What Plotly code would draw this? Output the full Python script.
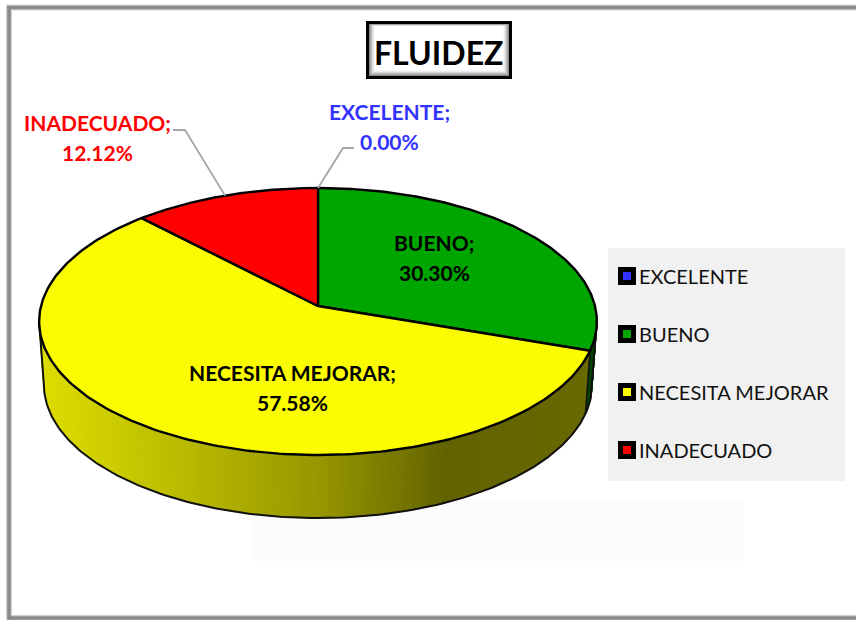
import numpy as np
import plotly.graph_objects as go

categories = ["EXCELENTE", "BUENO", "NECESITA MEJORAR", "INADECUADO"]
percent = [0.00, 30.30, 57.58, 12.12]
colors = ["#3333ff", "#00a600", "#fcfc00", "#ff0000"]
label_colors = ["#3333ff", "#000000", "#000000", "#ff0000"]
label_x = [389, 434, 292, 97]
label_y = [126, 257, 387, 137]
legend_y = [276, 334, 392, 450]

# side shading, factor on the slice colour along screen x
shade_x = [40, 200, 318, 400, 445, 600]
shade_f = [0.88, 0.72, 0.60, 0.47, 0.39, 0.42]

# pie geometry in page pixels (the axes below are 1:1 with the page)
CX, CY = 318, 306
RX, RY, PERSP = 277, 131.7, 0.116
DEPTH, SHRINK = 63, 0.983
FONT = "Lato"


def project(frac):
    # fraction of the circle, clockwise from 12 o'clock, to screen x/y
    ang = 2 * np.pi * np.asarray(frac, dtype=float)
    u, v = np.sin(ang), np.cos(ang)
    k = 1 + PERSP * v
    return CX + RX * u / k, CY - RY * v / k


def lower(x, y):
    return CX + (x - CX) * SHRINK, y + DEPTH


def shade(color, x):
    f = np.interp(x, shade_x, shade_f)
    r, g, b = [int(color[i : i + 2], 16) for i in (1, 3, 5)]
    return f"rgb({int(r * f)},{int(g * f)},{int(b * f)})"


fig = go.Figure()

fracs = np.cumsum([0] + percent) / 100
# the rim shows between the left and right extremes of the ellipse
rim_start = np.arccos(-PERSP) / (2 * np.pi)
rim_end = 1 - rim_start

# rim bands
for i, color in enumerate(colors):
    a, b = max(fracs[i], rim_start), min(fracs[i + 1], rim_end)
    if b <= a:
        continue
    edges = np.linspace(a, b, max(2, int((b - a) * 360) + 1))
    for e0, e1 in zip(edges[:-1], edges[1:]):
        xs, ys = project([e0, e1])
        xb, yb = lower(xs, ys)
        band = shade(color, xs.mean())
        fig.add_trace(
            go.Scatter(
                x=[xs[0], xs[1], xb[1], xb[0], xs[0]],
                y=[ys[0], ys[1], yb[1], yb[0], ys[0]],
                mode="lines",
                fill="toself",
                fillcolor=band,
                line=dict(color=band, width=1),
            )
        )

# rim outline
rim = np.linspace(rim_start, rim_end, 200)
xs, ys = project(rim)
xb, yb = lower(xs, ys)
fig.add_trace(
    go.Scatter(
        x=np.r_[xs[0], xb, xs[-1]],
        y=np.r_[ys[0], yb, ys[-1]],
        mode="lines",
        line=dict(color="#111111", width=2),
    )
)
# rim edge where two slices meet
for f in fracs[1:-1]:
    if rim_start < f < rim_end:
        x0, y0 = project(f)
        x1, y1 = lower(x0, y0)
        fig.add_trace(
            go.Scatter(
                x=[x0, x1], y=[y0, y1], mode="lines", line=dict(color="#111111", width=1.6)
            )
        )

# top face
for i, color in enumerate(colors):
    if percent[i] == 0:
        continue
    arc = np.linspace(fracs[i], fracs[i + 1], 200)
    xs, ys = project(arc)
    fig.add_trace(
        go.Scatter(
            x=np.r_[CX, xs, CX],
            y=np.r_[CY, ys, CY],
            mode="lines",
            fill="toself",
            fillcolor=color,
            line=dict(color="#000000", width=2.4),
        )
    )

# leader lines, only for the two labels outside the pie
for i, elbow in [(0, ((343, 148), (354, 148))), (3, ((185, 130), (173, 130)))]:
    x0, y0 = project((fracs[i] + fracs[i + 1]) / 2)
    fig.add_trace(
        go.Scatter(
            x=[x0, elbow[0][0], elbow[1][0]],
            y=[y0, elbow[0][1], elbow[1][1]],
            mode="lines",
            line=dict(color="#a6a6a6", width=1.8),
        )
    )

# legend keys
fig.add_trace(
    go.Scatter(
        x=[627] * len(categories),
        y=legend_y,
        mode="markers",
        marker=dict(
            symbol="square", size=13, color=colors, line=dict(color="#000000", width=5)
        ),
    )
)

shapes = []
# frame and the faint marks inside it
shapes.append(dict(type="rect", x0=9, y0=7.5, x1=880, y1=618, line=dict(color="#d0d0d0", width=6)))
shapes.append(dict(type="rect", x0=9, y0=7.5, x1=880, y1=618, line=dict(color="#8a8a8a", width=3.5)))
shapes.append(
    dict(type="rect", x0=252, y0=498, x1=744, y1=561, fillcolor="#fcfcfc", line=dict(width=0))
)
# legend box
shapes.append(
    dict(type="rect", x0=608, y0=248, x1=845, y1=481, fillcolor="#f1f1f1", line=dict(width=0))
)
# title box with a bevel from dark edge to white centre
bevel = ["#000000", "#000000", "#000000", "#8c8c8c", "#a8a8a8", "#c0c0c0", "#d8d8d8", "#ebebeb", "#f8f8f8", "#ffffff"]
for n, c in enumerate(bevel):
    top = n if n < 3 else 3 + (n - 3) * 0.4
    shapes.append(
        dict(
            type="rect",
            x0=366 + n,
            y0=21 + top,
            x1=512 - n,
            y1=79 - n,
            fillcolor=c,
            line=dict(width=0),
        )
    )

annotations = [
    dict(
        x=438, y=52, text="<b>FLUIDEZ</b>", showarrow=False,
        font=dict(family=FONT, size=32, color="#000000"),
    )
]
for i, name in enumerate(categories):
    # two annotations per label, the line gap is wider than plotly's <br>
    for text, dy in [(f"{name};", -15), (f"{percent[i]:.2f}%", 15)]:
        annotations.append(
            dict(
                x=label_x[i],
                y=label_y[i] + dy,
                text=f"<b>{text}</b>",
                showarrow=False,
                font=dict(family=FONT, size=21, color=label_colors[i]),
            )
        )
    annotations.append(
        dict(
            x=637,
            y=legend_y[i],
            text=name,
            xanchor="left",
            showarrow=False,
            font=dict(family=FONT, size=20, color="#111111"),
        )
    )

fig.update_layout(
    width=856,
    height=620,
    margin=dict(l=0, r=0, t=0, b=0),
    paper_bgcolor="#ffffff",
    plot_bgcolor="#ffffff",
    showlegend=False,
    hovermode=False,
    shapes=shapes,
    annotations=annotations,
    xaxis=dict(range=[0, 856], visible=False, fixedrange=True),
    yaxis=dict(range=[620, 0], visible=False, fixedrange=True),
)
for s in fig.layout.shapes:
    s.layer = "below"

# page margin off so the axes line up with the window
fig.write_html(
    "out.html",
    config=dict(displayModeBar=False),
    post_script="document.body.style.margin='0';",
)
